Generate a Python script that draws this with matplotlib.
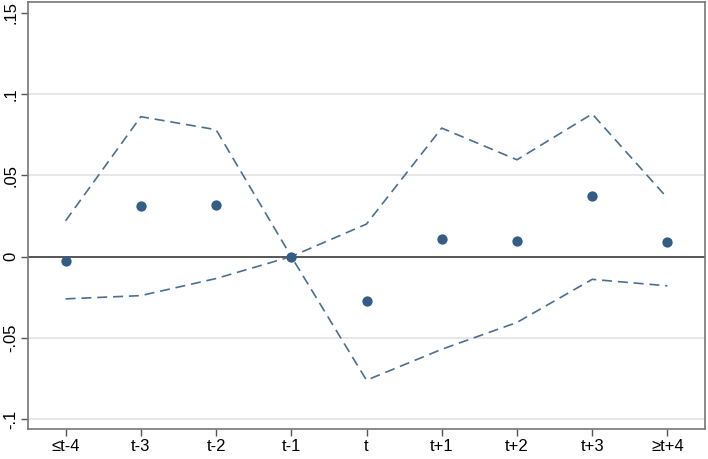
import matplotlib
matplotlib.use("Agg")
import matplotlib.pyplot as plt

periodos = ["≤t-4", "t-3", "t-2", "t-1", "t", "t+1", "t+2", "t+3", "≥t+4"]
coef = [-0.0025, 0.031, 0.032, 0.0, -0.0276, 0.011, 0.0098, 0.0374, 0.0092]
ic_sup = [0.022, 0.086, 0.078, 0.0, 0.020, 0.079, 0.0595, 0.0877, 0.036]
ic_inf = [-0.026, -0.024, -0.0135, 0.0, -0.076, -0.057, -0.0405, -0.014, -0.018]
y_ticks = [-0.1, -0.05, 0, 0.05, 0.1, 0.15]
y_labels = ["-.1", "-.05", "0", ".05", ".1", ".15"]

plt.rcParams["font.family"] = ["Liberation Sans", "DejaVu Sans"]

fig = plt.figure(figsize=(7.08, 4.59), dpi=100)
ax = fig.add_axes([28 / 708, 30 / 459, 677 / 708, 427 / 459])

x = list(range(len(periodos)))
cor_linha = "#4b6f93"
cor_ponto = "#345d86"

for g in [-0.1, -0.05, 0.05, 0.1]:
    ax.axhline(g, color="#e3e3e3", lw=1.2, zorder=0)
ax.axhline(0, color="#555555", lw=1.4, zorder=1)

ax.plot(x, ic_sup, color=cor_linha, lw=1.2, ls=(0, (6, 3.5)), zorder=2)
ax.plot(x, ic_inf, color=cor_linha, lw=1.2, ls=(0, (6, 3.5)), zorder=2)
ax.scatter(x, coef, s=55, color=cor_ponto, zorder=3, linewidths=0)

ax.set_xlim(-0.5, 8.5)
ax.set_ylim(-0.106, 0.1565)
ax.set_xticks(x)
ax.set_xticklabels(periodos, fontsize=12)
ax.set_yticks(y_ticks)
ax.set_yticklabels(y_labels, fontsize=12, rotation=90, va="center")

for s in ax.spines.values():
    s.set_color("#777777")
    s.set_linewidth(1.2)
ax.tick_params(axis="both", color="#555555", length=5, width=1)
ax.tick_params(axis="x", pad=2.5)
ax.tick_params(axis="y", pad=2)

fig.savefig("out.png", dpi=100)
